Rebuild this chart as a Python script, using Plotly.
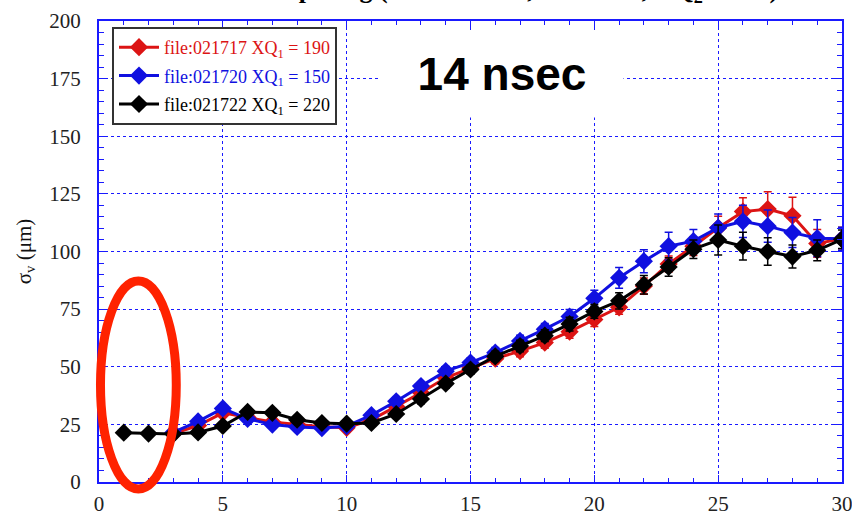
import plotly.graph_objects as go

# Wire spacing positions
x_black = list(range(1, 31))
x_rb = list(range(3, 31))

# sigma_v (um) for each run
sig_red = [21, 24.5, 30, 28, 26, 25, 24, 23.5, 27, 32.8, 38.7, 45.2, 49.5, 53.5,
           56.8, 60.5, 65.2, 70.5, 75.8, 85, 94.6, 102.3, 110.3, 117.3, 118.4,
           115.5, 103.5, 105.5]
err_red = [1, 1, 1.2, 1, 1, 1, 1, 1, 1.2, 1.5, 1.8, 2, 2, 2.2, 2.5, 2.5, 2.8, 3,
           3, 3.5, 3.5, 4, 5, 6, 7.5, 8, 6, 5]

sig_blue = [21.5, 26.3, 31.9, 27.4, 24.9, 23.9, 23.4, 24.2, 29, 35, 41.6, 48.1,
            51.8, 56.1, 61.2, 66.3, 71.8, 79.7, 88.6, 95.8, 102.3, 104.5, 110.3,
            113.1, 111, 108.2, 105.8, 105.5]
err_blue = [1, 1, 1.2, 1, 1, 1, 1, 1, 1.2, 1.5, 1.8, 2, 2, 2.2, 2.5, 2.5, 3, 3.5,
            4.5, 5, 6, 5, 6, 7, 7, 6.5, 8, 5]

sig_black = [21.4, 21, 20.8, 21.5, 24.3, 30.4, 30, 27, 25.6, 25.3, 25.6, 29.5,
             36, 42.7, 48.8, 54.5, 59, 63.5, 68.5, 74, 78.6, 85.6, 93.3, 101,
             105, 102.3, 100, 97.8, 100.5, 105.3]
err_black = [1, 1, 1, 1, 1, 1.2, 1.2, 1, 1, 1, 1, 1.5, 2, 2, 2, 2.2, 2.5, 2.5, 3,
             3, 3.5, 4, 4, 4, 6.5, 6, 6, 5, 4.5, 4]

labels = ["file:021717 XQ<sub>1</sub> = 190",
          "file:021720 XQ<sub>1</sub> = 150",
          "file:021722 XQ<sub>1</sub> = 220"]

RED = "#dc1414"
BLUE = "#1010e0"
BLACK = "#000000"
AXIS_BLUE = "#1a1aff"
SERIF = "Liberation Serif, Times New Roman, serif"


def run_trace(x, y, err, color, label, group):
    return go.Scatter(
        x=x, y=y, mode="lines+markers",
        name=f'<span style="color:{color}">{label}</span>',
        legendgroup=group,
        line=dict(color=color, width=3),
        marker=dict(symbol="diamond", size=14, color=color),
        error_y=dict(type="data", array=err, color=color, thickness=1.5, width=4),
    )


fig = go.Figure()
fig.add_trace(run_trace(x_rb, sig_red, err_red, RED, labels[0], "a"))
fig.add_trace(run_trace(x_rb, sig_blue, err_blue, BLUE, labels[1], "b"))
fig.add_trace(run_trace(x_black, sig_black, err_black, BLACK, labels[2], "c"))

axis_common = dict(
    showline=True, linecolor=AXIS_BLUE, linewidth=2, mirror="ticks",
    ticks="inside", tickcolor=AXIS_BLUE, tickwidth=1,
    showgrid=True, gridcolor=AXIS_BLUE, griddash="dot", gridwidth=1,
    zeroline=False, automargin=False, ticklabeloverflow="allow",
    tickfont=dict(family=SERIF, size=21, color="#222222"),
)

fig.update_xaxes(
    range=[0, 30], tickmode="linear", tick0=0, dtick=5, ticklen=7,
    minor=dict(dtick=1, ticks="inside", ticklen=4, tickcolor=AXIS_BLUE, showgrid=False),
    ticklabelstandoff=2,
    **axis_common,
)
fig.update_yaxes(
    range=[0, 200], tickmode="linear", tick0=0, dtick=25, ticklen=8,
    minor=dict(dtick=5, ticks="inside", ticklen=5, tickcolor=AXIS_BLUE, showgrid=False),
    ticklabelstandoff=12,
    title=dict(text="σ<sub>v</sub> (μm)", font=dict(family=SERIF, size=21, color="#111111"),
               standoff=12),
    **axis_common,
)

# Run-label box with the timing cut
fig.add_annotation(
    xref="paper", yref="paper", x=0.542, y=0.885, xanchor="center", yanchor="middle",
    text="<b>14 nsec</b>", showarrow=False,
    font=dict(family="Liberation Sans, Arial, sans-serif", size=46, color="#000000"),
    bgcolor="white", width=240, height=84,
)

# Title line, sitting above the page edge
fig.add_annotation(
    xref="paper", yref="paper", x=0.48, y=1.0, xanchor="center", yanchor="bottom",
    yshift=12,
    text="<b>Resolution vs spacing (HV = 1800 V, T = 14 ns, XQ<sub>2</sub> = 170)</b>",
    showarrow=False,
    font=dict(family=SERIF, size=26, color="#000000"),
)

# Highlight ring around the small-spacing points
fig.add_shape(
    type="circle", xref="paper", yref="paper",
    x0=0.002, x1=0.104, y0=-0.015, y1=0.436,
    line=dict(color="#ff2200", width=9), layer="above",
)

fig.update_layout(
    width=852, height=517,
    margin=dict(l=99, r=10, t=21, b=35),
    paper_bgcolor="white", plot_bgcolor="white",
    showlegend=True,
    legend=dict(
        x=0.0175, y=0.987, xanchor="left", yanchor="top",
        bgcolor="white", bordercolor="#333333", borderwidth=2,
        font=dict(family=SERIF, size=18, color="#000000"),
        itemwidth=40, tracegroupgap=2,
    ),
)

fig.write_html("out.html")
